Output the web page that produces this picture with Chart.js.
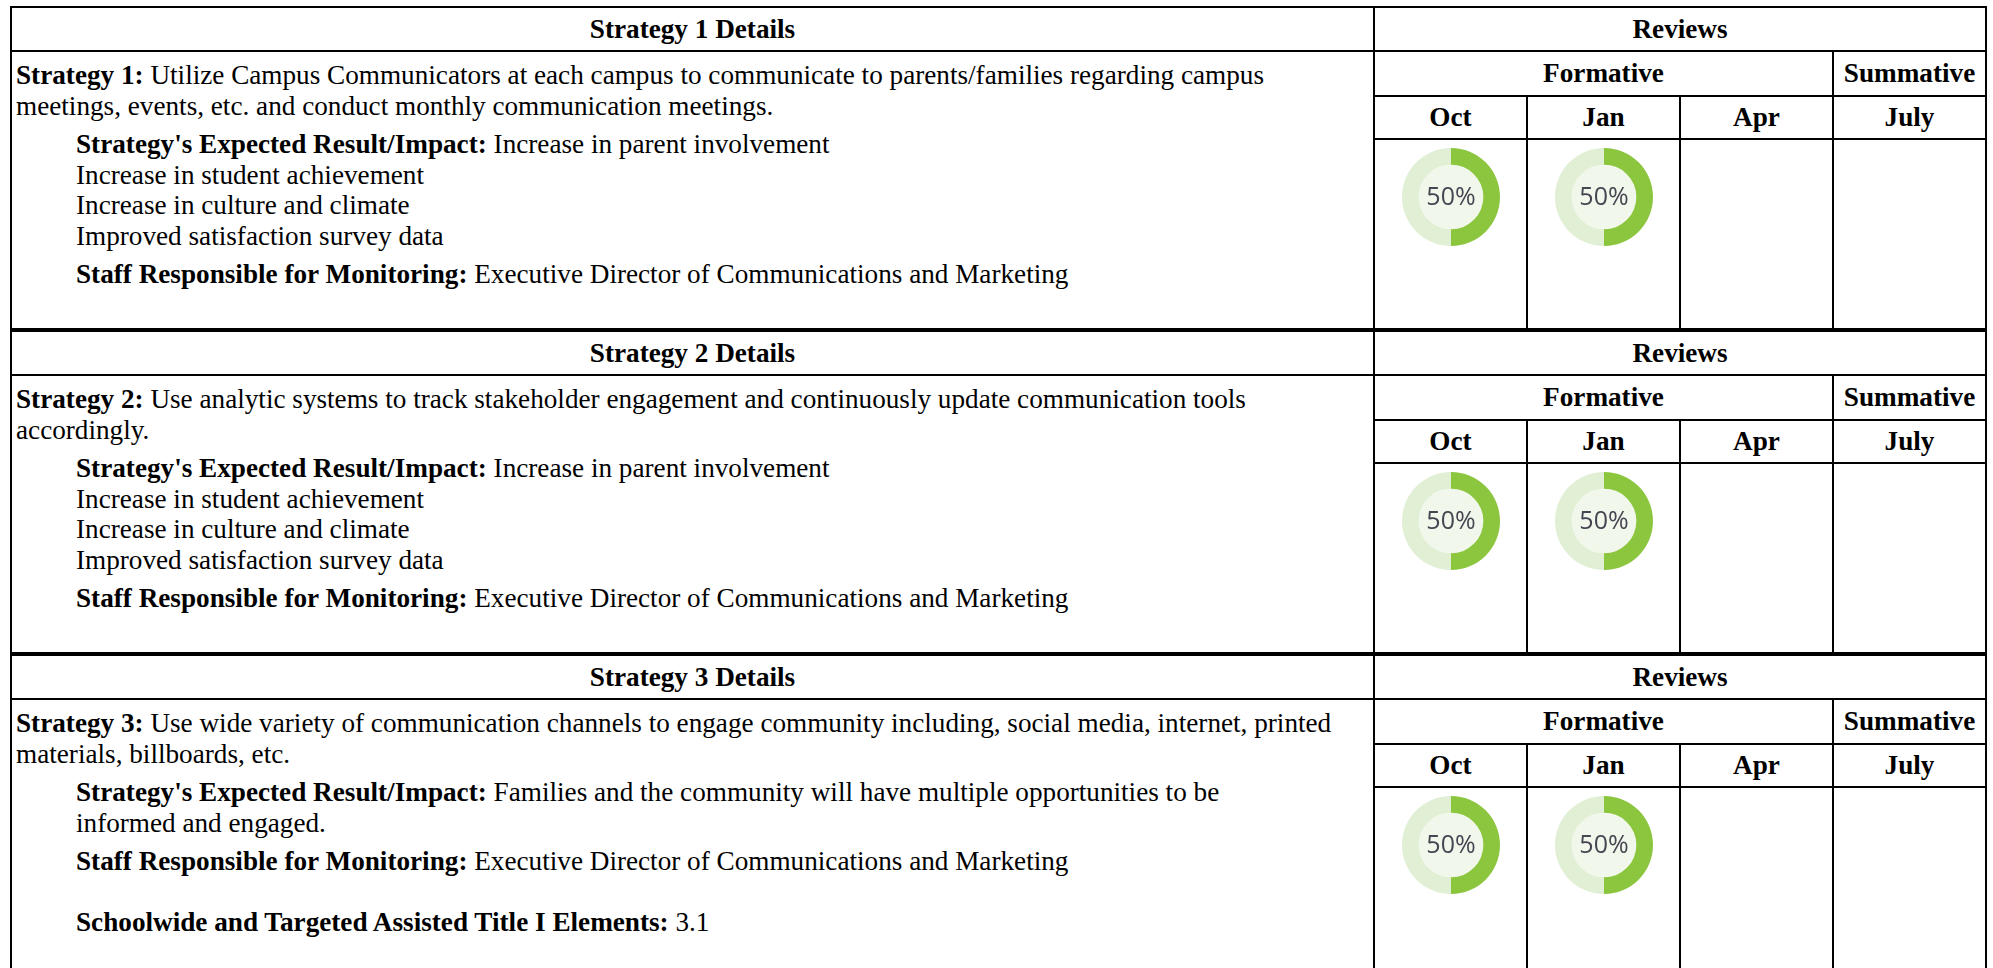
<!DOCTYPE html>
<html>
<head>
<meta charset="utf-8">
<script src="https://cdn.jsdelivr.net/npm/chart.js@4.4.0/dist/chart.umd.min.js"></script>
<style>
    html, body { margin: 0; padding: 0; background: #fff; }
    body { width: 1993px; height: 968px; overflow: hidden; position: relative; }
    .wrap { position: absolute; left: 10px; top: 6px; }
    table {
        border-collapse: collapse;
        table-layout: fixed;
        width: 1975px;
        font-family: "Liberation Serif", "Times New Roman", serif;
        font-size: 27.2px;
        line-height: 30.5px;
        color: #000;
    }
    td, th { border: 2px solid #000; padding: 0 4px; }
    th { font-weight: bold; text-align: center; }
    tr.head th { height: 42px; }
    tr.form th { height: 43px; }
    tr.month th { height: 41px; }
    tr.review td { height: 188px; vertical-align: top; text-align: center; padding: 0; }
    table.last tr.review td { height: 400px; }
    td.details { vertical-align: top; padding: 8px 4px 0 4px; }
    td.details p { margin: 0 0 8px 0; white-space: nowrap; }
    td.details .ind { padding-left: 60px; }
    td.details p.gap { margin-top: 30px; }
    canvas { display: block; margin: 8px auto 0 auto; }
</style>
</head>
<body>
<div class="wrap">

<table>
    <colgroup><col style="width:1363px"><col style="width:153px"><col style="width:153px"><col style="width:153px"><col style="width:153px"></colgroup>
    <tr class="head"><th>Strategy 1 Details</th><th colspan="4">Reviews</th></tr>
    <tr class="form">
        <td class="details" rowspan="3">
            <p><b>Strategy 1:</b> Utilize Campus Communicators at each campus to communicate to parents/families regarding campus<br>meetings, events, etc. and conduct monthly communication meetings.</p>
            <div class="ind">
                <p><b>Strategy's Expected Result/Impact:</b> Increase in parent involvement<br>Increase in student achievement<br>Increase in culture and climate<br>Improved satisfaction survey data</p>
                <p><b>Staff Responsible for Monitoring:</b> Executive Director of Communications and Marketing</p>
            </div>
        </td>
        <th colspan="3">Formative</th><th>Summative</th>
    </tr>
    <tr class="month" id="months-1"></tr>
    <tr class="review" id="reviews-1"></tr>
</table>

<table>
    <colgroup><col style="width:1363px"><col style="width:153px"><col style="width:153px"><col style="width:153px"><col style="width:153px"></colgroup>
    <tr class="head"><th>Strategy 2 Details</th><th colspan="4">Reviews</th></tr>
    <tr class="form">
        <td class="details" rowspan="3">
            <p><b>Strategy 2:</b> Use analytic systems to track stakeholder engagement and continuously update communication tools<br>accordingly.</p>
            <div class="ind">
                <p><b>Strategy's Expected Result/Impact:</b> Increase in parent involvement<br>Increase in student achievement<br>Increase in culture and climate<br>Improved satisfaction survey data</p>
                <p><b>Staff Responsible for Monitoring:</b> Executive Director of Communications and Marketing</p>
            </div>
        </td>
        <th colspan="3">Formative</th><th>Summative</th>
    </tr>
    <tr class="month" id="months-2"></tr>
    <tr class="review" id="reviews-2"></tr>
</table>

<table class="last">
    <colgroup><col style="width:1363px"><col style="width:153px"><col style="width:153px"><col style="width:153px"><col style="width:153px"></colgroup>
    <tr class="head"><th>Strategy 3 Details</th><th colspan="4">Reviews</th></tr>
    <tr class="form">
        <td class="details" rowspan="3">
            <p><b>Strategy 3:</b> Use wide variety of communication channels to engage community including, social media, internet, printed<br>materials, billboards, etc.</p>
            <div class="ind">
                <p><b>Strategy's Expected Result/Impact:</b> Families and the community will have multiple opportunities to be<br>informed and engaged.</p>
                <p><b>Staff Responsible for Monitoring:</b> Executive Director of Communications and Marketing</p>
                <p class="gap"><b>Schoolwide and Targeted Assisted Title I Elements:</b> 3.1</p>
            </div>
        </td>
        <th colspan="3">Formative</th><th>Summative</th>
    </tr>
    <tr class="month" id="months-3"></tr>
    <tr class="review" id="reviews-3"></tr>
</table>

</div>

<script>
// ================= DATA =================
const months = ['Oct', 'Jan', 'Apr', 'July'];
const strategy1Reviews = [50, 50, null, null];
const strategy2Reviews = [50, 50, null, null];
const strategy3Reviews = [50, 50, null, null];

const doneColor = '#8cc63f';
const restColor = '#e1efd5';
const centerColor = '#f1f7eb';

// ================= CENTER PLUGIN =================
const centerPlugin = {
    id: 'centerPct',
    beforeDatasetsDraw(chart) {
        const arc = chart.getDatasetMeta(0).data[0];
        if (!arc) return;
        const ctx = chart.ctx;
        ctx.save();
        ctx.beginPath();
        ctx.arc(arc.x, arc.y, arc.innerRadius, 0, Math.PI * 2);
        ctx.fillStyle = centerColor;
        ctx.fill();
        ctx.restore();
    },
    afterDatasetsDraw(chart) {
        const arc = chart.getDatasetMeta(0).data[0];
        if (!arc) return;
        const ctx = chart.ctx;
        ctx.save();
        ctx.font = '25px "Open Sans", "Noto Sans", sans-serif';
        ctx.fillStyle = '#464652';
        ctx.textAlign = 'center';
        ctx.textBaseline = 'middle';
        ctx.fillText(chart.data.datasets[0].data[0] + '%', arc.x, arc.y + 1);
        ctx.restore();
    }
};

// ================= RENDER =================
function renderReviews(n, values) {
    const monthRow = document.getElementById('months-' + n);
    const reviewRow = document.getElementById('reviews-' + n);

    monthRow.innerHTML = months.map(m => `<th>${m}</th>`).join('');

    months.forEach((m, i) => {
        const td = document.createElement('td');
        reviewRow.appendChild(td);
        const v = values[i];
        if (v == null) return;

        const canvas = document.createElement('canvas');
        canvas.width = 98;
        canvas.height = 98;
        canvas.style.width = '98px';
        canvas.style.height = '98px';
        td.appendChild(canvas);

        new Chart(canvas, {
            type: 'doughnut',
            data: {
                labels: ['Done', 'Remaining'],
                datasets: [{
                    data: [v, 100 - v],
                    backgroundColor: [doneColor, restColor],
                    borderWidth: 0
                }]
            },
            options: {
                responsive: false,
                animation: false,
                cutout: '66%',
                rotation: 0,
                plugins: {
                    legend: { display: false },
                    tooltip: { enabled: false }
                }
            },
            plugins: [centerPlugin]
        });
    });
}

document.addEventListener('DOMContentLoaded', () => {
    renderReviews(1, strategy1Reviews);
    renderReviews(2, strategy2Reviews);
    renderReviews(3, strategy3Reviews);
});
</script>
</body>
</html>
